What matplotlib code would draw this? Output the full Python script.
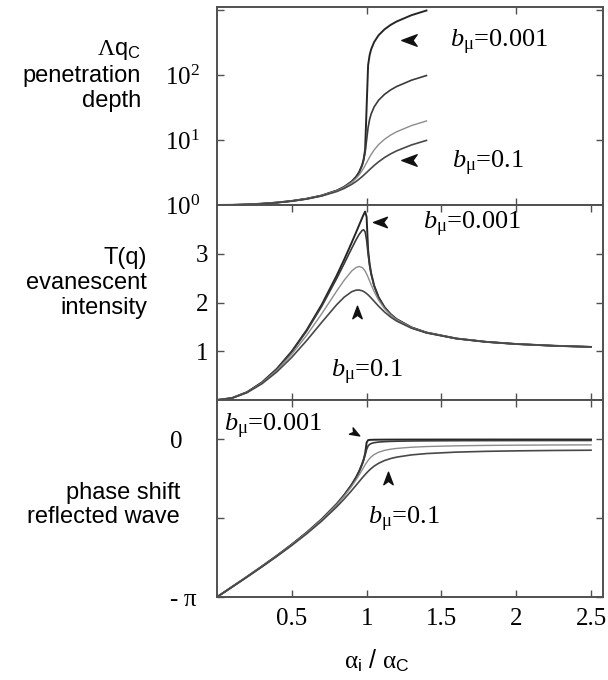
import numpy as np
import matplotlib
matplotlib.use('Agg')
import matplotlib.pyplot as plt
from matplotlib.path import Path
from matplotlib.markers import MarkerStyle
from matplotlib.transforms import Affine2D, ScaledTranslation
from matplotlib.ticker import FixedLocator, LogLocator, NullFormatter

plt.rcParams['font.family'] = 'Liberation Serif'
plt.rcParams['mathtext.fontset'] = 'custom'
plt.rcParams['mathtext.rm'] = 'Liberation Serif'
plt.rcParams['mathtext.it'] = 'Liberation Serif:italic'
plt.rcParams['mathtext.bf'] = 'Liberation Serif:bold'
plt.rcParams['mathtext.sf'] = 'Liberation Sans'

# absorption b_mu of the four curves
b_mu = [0.001, 0.01, 0.05, 0.1]

# alpha_i / alpha_c
x_depth = [0, 0.1, 0.2, 0.3, 0.4, 0.5, 0.6, 0.7, 0.8, 0.85, 0.9, 0.93, 0.95, 0.97,
           0.98, 0.99, 1.0, 1.01, 1.02, 1.03, 1.05, 1.08, 1.12, 1.16, 1.2, 1.3, 1.4]
x_full = x_depth + [1.6, 1.8, 2.0, 2.25, 2.5]

# penetration depth Lambda*q_c
depth_0001 = [1.000, 1.005, 1.021, 1.048, 1.091, 1.155, 1.250, 1.400, 1.667, 1.898, 2.294,
              2.721, 3.203, 4.113, 5.025, 7.08, 31.6, 141.8, 201, 246.8, 320, 408, 504,
              588, 663, 831, 980]
depth_001 = [1.000, 1.005, 1.021, 1.048, 1.091, 1.155, 1.250, 1.400, 1.666, 1.897, 2.291,
             2.713, 3.186, 4.057, 4.881, 6.447, 10.0, 15.57, 20.68, 25.0, 32.2, 40.9, 50.4,
             58.8, 66.3, 83.1, 98.0]
depth_005 = [0.999, 1.004, 1.019, 1.047, 1.089, 1.152, 1.246, 1.394, 1.651, 1.869, 2.223,
             2.568, 2.904, 3.378, 3.687, 4.051, 4.472, 4.942, 5.445, 5.966, 7.010, 8.491,
             10.27, 11.88, 13.35, 16.66, 19.62]
depth_01 = [0.995, 1.000, 1.015, 1.042, 1.084, 1.145, 1.235, 1.375, 1.610, 1.797, 2.072,
            2.305, 2.500, 2.734, 2.866, 3.009, 3.162, 3.325, 3.496, 3.674, 4.045, 4.618,
            5.376, 6.103, 6.795, 8.392, 9.850]

# evanescent intensity T
trans_0001 = [0, 0.0400, 0.1599, 0.3598, 0.6394, 0.9988, 1.4378, 1.9562, 2.5532, 2.8807,
              3.2267, 3.4422, 3.5882, 3.7338, 3.8038, 3.8659, 3.7550, 3.0748, 2.7912,
              2.6032, 2.3491, 2.1074, 1.9016, 1.7618, 1.6590, 1.4891, 1.3843, 1.2616,
              1.1925, 1.1487, 1.1129, 1.0890]
trans_001 = [0, 0.0399, 0.1593, 0.3577, 0.6343, 0.9883, 1.4183, 1.9216, 2.4922, 2.7978,
             3.1085, 3.2888, 3.3974, 3.4784, 3.4910, 3.4512, 3.2787, 2.9940, 2.7611,
             2.5876, 2.3427, 2.1048, 1.9004, 1.7611, 1.6586, 1.4889, 1.3842, 1.2615,
             1.1925, 1.1487, 1.1129, 1.0890]
trans_005 = [0, 0.0394, 0.1560, 0.3472, 0.6098, 0.9396, 1.3302, 1.7701, 2.2344, 2.4568,
             2.6454, 2.7202, 2.7389, 2.7179, 2.6879, 2.6433, 2.5853, 2.5169, 2.4427,
             2.3674, 2.2253, 2.0485, 1.8733, 1.7457, 1.6489, 1.4849, 1.3821, 1.2608,
             1.1922, 1.1486, 1.1128, 1.0889]
trans_01 = [0, 0.0385, 0.1508, 0.3320, 0.5765, 0.8767, 1.2216, 1.5931, 1.9551, 2.1095,
            2.2210, 2.2538, 2.2563, 2.2405, 2.2257, 2.2063, 2.1829, 2.1558, 2.1259,
            2.0937, 2.0260, 1.9247, 1.8035, 1.7029, 1.6207, 1.4727, 1.3757, 1.2583,
            1.1909, 1.1479, 1.1125, 1.0887]

# phase of the reflected wave (rad)
phase_0001 = [-3.1416, -2.9413, -2.7389, -2.5322, -2.3186, -2.0944, -1.8546, -1.5908,
              -1.2870, -1.1096, -0.9021, -0.7535, -0.6351, -0.4893, -0.4008, -0.2834,
              -0.0633, -0.0142, -0.0101, -0.0083, -0.0066, -0.0053, -0.0044, -0.0039,
              -0.0036, -0.0031, -0.0029, -0.0026, -0.0024, -0.0023, -0.0022, -0.0022]
phase_001 = [-3.1416, -2.9413, -2.7389, -2.5322, -2.3186, -2.0942, -1.8546, -1.5909,
             -1.2873, -1.1101, -0.9034, -0.7557, -0.6387, -0.4984, -0.4132, -0.3121,
             -0.2013, -0.1301, -0.0988, -0.0825, -0.0653, -0.0529, -0.0444, -0.0394,
             -0.0362, -0.0313, -0.0286, -0.0256, -0.0240, -0.0231, -0.0223, -0.0218]
phase_005 = [-3.1416, -2.9420, -2.7401, -2.5344, -2.3222, -2.0994, -1.8609, -1.6010,
             -1.3024, -1.1312, -0.9365, -0.8043, -0.7086, -0.6081, -0.5574, -0.5078,
             -0.4612, -0.4189, -0.3820, -0.3507, -0.3027, -0.2559, -0.2187, -0.1956,
             -0.1798, -0.1560, -0.1425, -0.1277, -0.1199, -0.1151, -0.1113, -0.1088]
phase_01 = [-3.1416, -2.9442, -2.7451, -2.5418, -2.3319, -2.1129, -1.8802, -1.6278,
            -1.3453, -1.1884, -1.0197, -0.9129, -0.8409, -0.7696, -0.7351, -0.7016,
            -0.6688, -0.6379, -0.6088, -0.5823, -0.5336, -0.4765, -0.4209, -0.3821,
            -0.3538, -0.3087, -0.2825, -0.2534, -0.2379, -0.2283, -0.2206, -0.2156]

depths = [depth_0001, depth_001, depth_005, depth_01]
transm = [trans_0001, trans_001, trans_005, trans_01]
phases = [phase_0001, phase_001, phase_005, phase_01]

line_colors = ['#262626', '#3a3a3a', '#8c8c8c', '#484848']
line_widths = [1.4, 1.2, 1.0, 1.2]
frame_col = '#505050'

W, H = 608, 680
fig = plt.figure(figsize=(W / 100, H / 100), dpi=100)

def px_rect(x0, y0, x1, y1):
    return [x0 / W, 1 - y1 / H, (x1 - x0) / W, (y1 - y0) / H]

ax1 = fig.add_axes(px_rect(217, 7, 603, 205))
ax2 = fig.add_axes(px_rect(217, 205, 603, 400))
ax3 = fig.add_axes(px_rect(217, 400, 603, 597))

for b, c, lw, d, t, p in zip(b_mu, line_colors, line_widths, depths, transm, phases):
    ax1.plot(x_depth, d, color=c, lw=lw)
    ax2.plot(x_full, t, color=c, lw=lw)
    ax3.plot(x_full, p, color=c, lw=lw)

for ax in (ax1, ax2, ax3):
    ax.set_xlim(0, 2.58)
    for s in ax.spines.values():
        s.set_color(frame_col)
        s.set_linewidth(1.4)
    ax.tick_params(which='both', direction='in', top=True, right=True,
                   color=frame_col, width=1.0, labelsize=18)
    ax.tick_params(which='major', length=5)
    ax.tick_params(which='minor', length=2.5)

# penetration depth, log scale
ax1.set_yscale('log')
ax1.set_ylim(1, 1110)
ax1.set_yticks([1, 10, 100, 1000])
ax1.set_yticklabels(['$10^0$', '$10^1$', '$10^2$', ''])
ax1.yaxis.set_minor_locator(LogLocator(base=10, subs=np.arange(2, 10)))
ax1.yaxis.set_minor_formatter(NullFormatter())
ax1.set_xticks([1, 2])
ax1.set_xticklabels([])
ax1.tick_params(axis='y', pad=12)

# evanescent intensity
ax2.set_ylim(0, 4)
ax2.set_yticks([1, 2, 3])
ax2.set_xticks([0.5, 1, 1.5, 2, 2.5])
ax2.set_xticklabels([])
ax2.tick_params(axis='y', pad=6)

# phase shift
ax3.set_ylim(-np.pi, np.pi / 4)
ax3.yaxis.set_major_locator(FixedLocator([-np.pi, -np.pi / 2, 0]))
ax3.set_yticklabels([r'- $\mathrm{\pi}$', '', '0'])
ax3.set_xticks([0.5, 1, 1.5, 2, 2.5])
ax3.set_xticklabels(['0.5', '1', '1.5', '2', '2.5'])
ax3.tick_params(axis='y', pad=14)
ax3.tick_params(axis='x', pad=8)
for lab in ax3.get_yticklabels():
    if lab.get_text() == '0':
        lab.set_transform(lab.get_transform() + ScaledTranslation(-0.15, 0, fig.dpi_scale_trans))

# arrowheads pointing at the curves
head = Path([(-1, 0), (1, 0.75), (0.45, 0), (1, -0.75), (-1, 0)],
            [Path.MOVETO, Path.LINETO, Path.LINETO, Path.LINETO, Path.CLOSEPOLY])

def arrowhead(ax, x, y, angle, size):
    m = MarkerStyle(head, transform=Affine2D().rotate_deg(angle))
    ax.plot([x], [y], marker=m, ms=size, color='#111111', ls='none', clip_on=False)

lab_001 = r'$\mathit{b}_{\mathrm{\mu}}$=0.001'
lab_01 = r'$\mathit{b}_{\mathrm{\mu}}$=0.1'

arrowhead(ax1, 1.285, 340, 0, 11)
arrowhead(ax1, 1.285, 4.9, 0, 11)
ax1.text(1.56, 320, lab_001, fontsize=19, va='center')
ax1.text(1.57, 4.4, lab_01, fontsize=19, va='center')

arrowhead(ax2, 1.09, 3.66, 0, 10)
arrowhead(ax2, 0.935, 1.80, -90, 9)
ax2.text(1.38, 3.60, lab_001, fontsize=19, va='center')
ax2.text(0.76, 0.57, lab_01, fontsize=19, va='center')

arrowhead(ax3, 0.92, 0.12, 150, 7)
arrowhead(ax3, 1.145, -0.76, -90, 9)
ax3.text(0.05, 0.26, lab_001, fontsize=19, va='center')
ax3.text(1.01, -1.60, lab_01, fontsize=19, va='center')

# quantity names on the left
sans = 'Liberation Sans'
fig.text(141 / W, 1 - 75 / H, '$\\mathrm{\\Lambda}$q$_\\mathsf{C}$\npenetration\ndepth',
         ha='right', va='center', fontsize=17, family=sans, linespacing=1.2,
         multialignment='right')
fig.text(147 / W, 1 - 283 / H, 'T(q)\nevanescent\nintensity',
         ha='right', va='center', fontsize=17, family=sans, linespacing=1.15,
         multialignment='right')
fig.text(180 / W, 1 - 505 / H, 'phase shift\nreflected wave',
         ha='right', va='center', fontsize=17, family=sans, linespacing=1.15,
         multialignment='right')

fig.text(377 / W, 1 - 661 / H,
         r'$\mathrm{\alpha}_\mathsf{i}$ / $\mathrm{\alpha}_\mathsf{C}$',
         ha='center', va='center', fontsize=18, family=sans)

fig.savefig('out.png', dpi=100)
